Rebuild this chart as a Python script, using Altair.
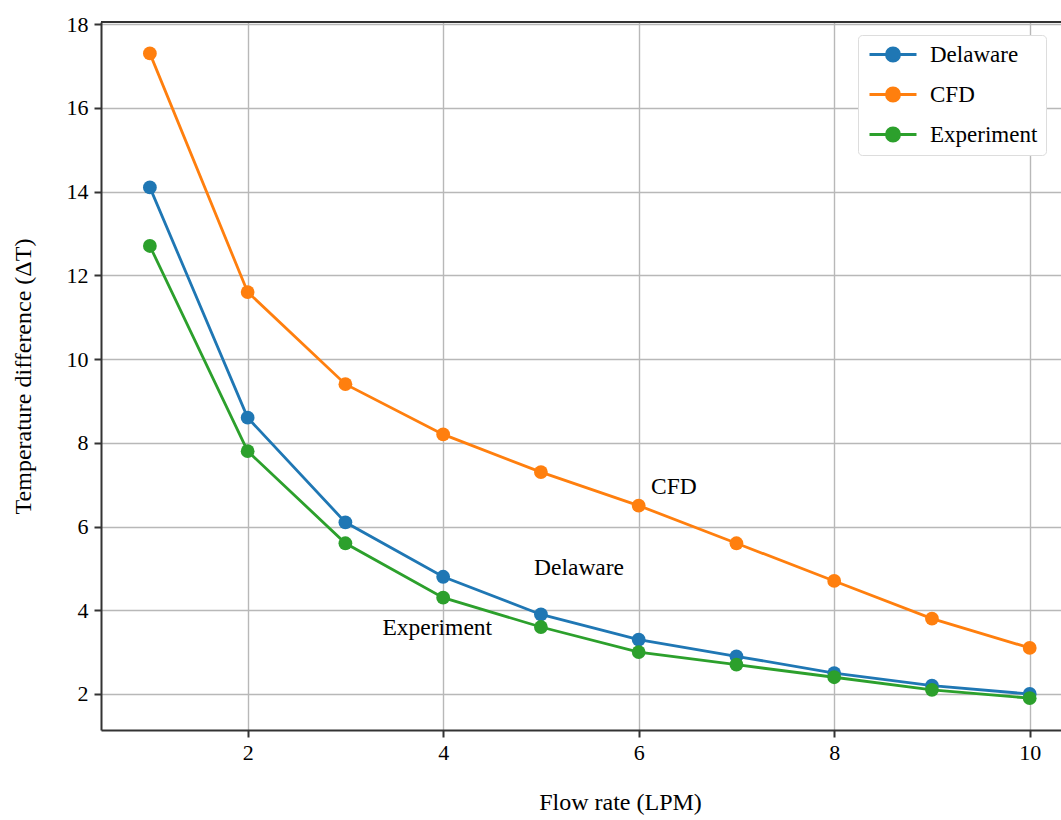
import altair as alt
import pandas as pd

flow = [1, 2, 3, 4, 5, 6, 7, 8, 9, 10]
delaware = [14.1, 8.6, 6.1, 4.8, 3.9, 3.3, 2.9, 2.5, 2.2, 2.0]
cfd = [17.3, 11.6, 9.4, 8.2, 7.3, 6.5, 5.6, 4.7, 3.8, 3.1]
experiment = [12.7, 7.8, 5.6, 4.3, 3.6, 3.0, 2.7, 2.4, 2.1, 1.9]

series_names = ["Delaware", "CFD", "Experiment"]
series_colors = ["#1f77b4", "#ff7f0e", "#2ca02c"]

ann_text = ["CFD", "Delaware", "Experiment"]
ann_x = [6.36, 5.39, 3.94]
ann_y = [6.94, 5.0, 3.58]

x_ticks = [2, 4, 6, 8, 10]
y_ticks = [2, 4, 6, 8, 10, 12, 14, 16, 18]

rows = []
for name, vals in zip(series_names, [delaware, cfd, experiment]):
    for f, v in zip(flow, vals):
        rows.append({"flow": f, "dT": v, "series": name})
df = pd.DataFrame(rows)
ann_df = pd.DataFrame({"text": ann_text, "x": ann_x, "y": ann_y})

FONT = "Liberation Serif"
xscale = alt.Scale(domain=[0.5, 10.32], nice=False, zero=False)
yscale = alt.Scale(domain=[1.14, 18.05], nice=False, zero=False)

x_enc = alt.X("flow:Q", scale=xscale,
              axis=alt.Axis(values=x_ticks, format="d", title="Flow rate (LPM)",
                            titlePadding=27, labelPadding=5, titleX=519))
y_enc = alt.Y("dT:Q", scale=yscale,
              axis=alt.Axis(values=y_ticks, format="d", title="Temperature difference (ΔT)",
                            titlePadding=31, labelPadding=6))

# legend glyph: line with a dot (unit = 8 px for symbolSize 256)
legend_symbol = ("M-1,0 L4.875,0 "
                 "M1.1275,0 A0.81,0.81 0 1,1 2.7475,0 A0.81,0.81 0 1,1 1.1275,0 Z")

color_enc = alt.Color(
    "series:N",
    scale=alt.Scale(domain=series_names, range=series_colors),
    sort=series_names,
    legend=alt.Legend(
        title=None, orient="none", legendX=757, legendY=13,
        symbolType=legend_symbol, symbolSize=256, symbolStrokeWidth=3,
        labelFont=FONT, labelFontSize=23, labelOffset=41, rowPadding=15,
        padding=8, fillColor="white", strokeColor="#dddddd", cornerRadius=4,
        labelColor="black",
    ),
)

lines = alt.Chart(df).mark_line(
    strokeWidth=2.8,
    point=alt.OverlayMarkDef(filled=True, size=190, opacity=1),
).encode(x=x_enc, y=y_enc, color=color_enc, detail="series:N")

ann = alt.Chart(ann_df).mark_text(font=FONT, fontSize=23.5, color="black").encode(
    x=alt.X("x:Q", scale=xscale), y=alt.Y("y:Q", scale=yscale), text="text:N"
)

top = alt.Chart(ann_df.head(1)).mark_rule(color="#333333", strokeWidth=2).encode(
    x=alt.value(0), x2=alt.value(960), y=alt.value(0)
)

chart = alt.layer(lines, ann, top).properties(
    width=960, height=708,
    autosize=alt.AutoSizeParams(type="none"),
    padding={"left": 101, "top": 22, "right": 0, "bottom": 90},
).configure_view(stroke=None).configure_axis(
    labelFont=FONT, titleFont=FONT, labelFontSize=22, titleFontSize=24,
    titleFontWeight="normal", labelColor="black", titleColor="black",
    domainColor="#333333", domainWidth=2, tickColor="#333333", tickWidth=2,
    tickSize=7, gridColor="#b8b8b8", gridWidth=1.4,
)

chart.save("out.html", embed_options={"renderer": "svg", "actions": False})
